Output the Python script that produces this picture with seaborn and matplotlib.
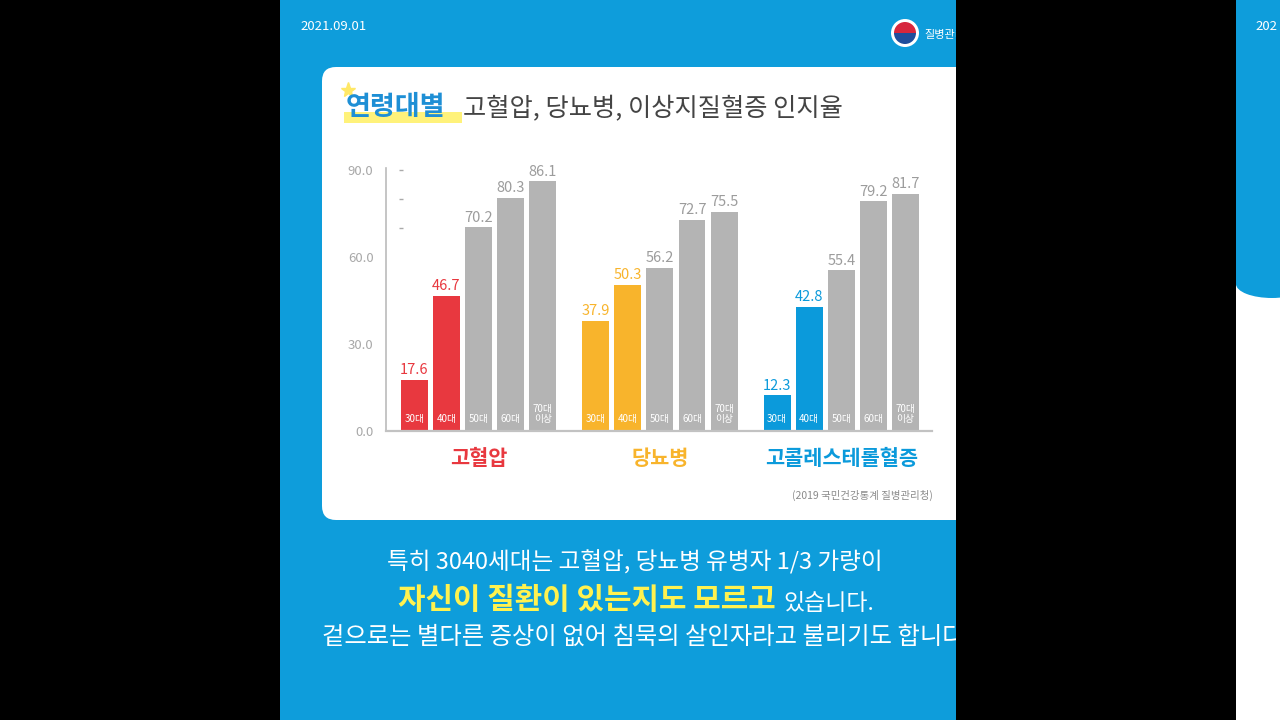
import numpy as np
import pandas as pd
import matplotlib
matplotlib.use('Agg')
import matplotlib.pyplot as plt
import seaborn as sns
from matplotlib.patches import Rectangle, FancyBboxPatch, Circle, Wedge, Ellipse

# ---------------- data ----------------
diseases = ['고혈압', '당뇨병', '고콜레스테롤혈증']
ages = ['30대', '40대', '50대', '60대', '70대\n이상']
hypertension = [17.6, 46.7, 70.2, 80.3, 86.1]
diabetes = [37.9, 50.3, 56.2, 72.7, 75.5]
cholesterol = [12.3, 42.8, 55.4, 79.2, 81.7]
y_ticks = [0, 30, 60, 90]
y_tick_labels = ['0.0', '30.0', '60.0', '90.0']

title_bold = '연령대별'
title_rest = '고혈압, 당뇨병, 이상지질혈증 인지율'
source_text = '(2019 국민건강통계 질병관리청)'
date_text = '2021.09.01'
line1 = '특히 3040세대는 고혈압, 당뇨병 유병자 1/3 가량이'
line2_bold = '자신이 질환이 있는지도 모르고'
line2_rest = '있습니다.'
line3 = '겉으로는 별다른 증상이 없어 침묵의 살인자라고 불리기도 합니다'

# ---------------- style ----------------
sns.set_style('white')
plt.rcParams['font.family'] = ['Noto Sans CJK KR', 'DejaVu Sans']

disease_colors = ['#E8383F', '#F8B42C', '#0B9ADB']
gray_bar = '#B4B4B4'
gray_text = '#9C9C9C'
panel_blue = '#0E9DDB'

fig = plt.figure(figsize=(12.8, 7.2), dpi=100, facecolor='black')

# ---------------- background panel ----------------
bg = fig.add_axes([280 / 1280, 0, 676 / 1280, 1])
bg.set_xlim(280, 956)
bg.set_ylim(720, 0)
bg.axis('off')
bg.add_patch(Rectangle((280, 0), 676, 720, fc=panel_blue, ec='none', zorder=0))
bg.add_patch(FancyBboxPatch((322, 67), 680, 453,
                            boxstyle='round,pad=0,rounding_size=14',
                            fc='white', ec='none', zorder=1))

bg.text(300, 27, date_text, color='white', fontsize=9.5, ha='left', va='center', zorder=3)
# logo
bg.add_patch(Circle((905, 33), 14, fc='white', ec='none', zorder=3))
bg.add_patch(Wedge((905, 33), 11, 180, 360, fc='#D7263D', ec='none', zorder=4))
bg.add_patch(Wedge((905, 33), 11, 0, 180, fc='#1F4E9C', ec='none', zorder=4))
bg.text(924, 35, '질병관리청', color='white', fontsize=8, ha='left', va='center',
        zorder=3, clip_on=True)

# title
bg.add_patch(Rectangle((344, 112), 118, 11, fc='#FFF27A', ec='none', zorder=2))
bg.plot([348], [90], marker='*', markersize=11, color='#FFE866', zorder=2)
bg.text(346, 107, title_bold, color='#1E8FD5', fontsize=19.5, fontweight='bold',
        ha='left', va='center', zorder=3)
bg.text(463, 109, title_rest, color='#444444', fontsize=18.2,
        ha='left', va='center', zorder=3)

bg.text(933, 495, source_text, color='#8A8A8A', fontsize=7.5, ha='right', va='center', zorder=3)

# bottom text
bg.text(635, 562, line1, color='white', fontsize=17, ha='center', va='center', zorder=3)
bg.text(776, 600, line2_bold, color='#FFF24F', fontsize=21.5, fontweight='bold',
        ha='right', va='center', zorder=3)
bg.text(783, 603, line2_rest, color='white', fontsize=16.5, ha='left', va='center', zorder=3)
bg.text(322, 637, line3, color='white', fontsize=17.5, ha='left', va='center',
        zorder=3, clip_on=True)

# right partial panel
rp = fig.add_axes([1236 / 1280, 0, 44 / 1280, 1])
rp.set_xlim(1236, 1280)
rp.set_ylim(720, 0)
rp.axis('off')
rp.add_patch(Rectangle((1236, 0), 44, 720, fc='white', ec='none', zorder=0))
rp.add_patch(Rectangle((1236, 0), 44, 285, fc=panel_blue, ec='none', zorder=1))
rp.add_patch(Ellipse((1272, 284), 72, 28, fc=panel_blue, ec='none', zorder=1))
rp.text(1255, 27, '202', color='white', fontsize=9.5, ha='left', va='center',
        zorder=3, clip_on=True)

# ---------------- chart ----------------
ax = fig.add_axes([386 / 1280, 1 - 431 / 720, 546 / 1280, 263 / 720])
ax.set_zorder(5)
ax.patch.set_alpha(0)

df = pd.DataFrame({
    'disease': np.repeat(diseases, len(ages)),
    'age': ages * len(diseases),
    'value': hypertension + diabetes + cholesterol,
})

sns.barplot(data=df, x='disease', y='value', hue='age', order=diseases,
            hue_order=ages, palette=[gray_bar] * len(ages), width=0.885, gap=0.16,
            saturation=1, legend=False, errorbar=None, ax=ax)

ax.set_xlim(-0.51, 2.50)
ax.set_ylim(0, 90.7)

for hi, cont in enumerate(ax.containers):
    labels = ax.bar_label(cont, fmt='%.1f', padding=2, fontsize=10.5)
    for bar, txt in zip(cont, labels):
        cx = bar.get_x() + bar.get_width() / 2
        ci = int(round(cx))
        col = disease_colors[ci] if hi < 2 else gray_bar
        bar.set_facecolor(col)
        bar.set_edgecolor('none')
        txt.set_color(disease_colors[ci] if hi < 2 else gray_text)
        ax.text(cx, 2.3, ages[hi], color='white', fontsize=7, ha='center',
                va='bottom', linespacing=1.0)

# decorative minor dashes
ax.hlines([70, 80, 90], -0.44, -0.415, color='#AAAAAA', lw=1)

ax.set_yticks(y_ticks)
ax.set_yticklabels(y_tick_labels, fontsize=9.5, color='#A8A8A8')
ax.set_xticks(range(len(diseases)))
ax.set_xticklabels(diseases, fontsize=15, fontweight='bold')
for lbl, c in zip(ax.get_xticklabels(), disease_colors):
    lbl.set_color(c)
ax.tick_params(axis='x', length=0, pad=12)
ax.tick_params(axis='y', length=0, pad=9)
ax.set_xlabel('')
ax.set_ylabel('')

for s in ['top', 'right']:
    ax.spines[s].set_visible(False)
ax.spines['left'].set_color('#BBBBBB')
ax.spines['left'].set_linewidth(1.2)
ax.spines['bottom'].set_color('#C2C2C2')
ax.spines['bottom'].set_linewidth(1.6)
ax.grid(False)

fig.savefig('out.png', dpi=100, facecolor='black')
